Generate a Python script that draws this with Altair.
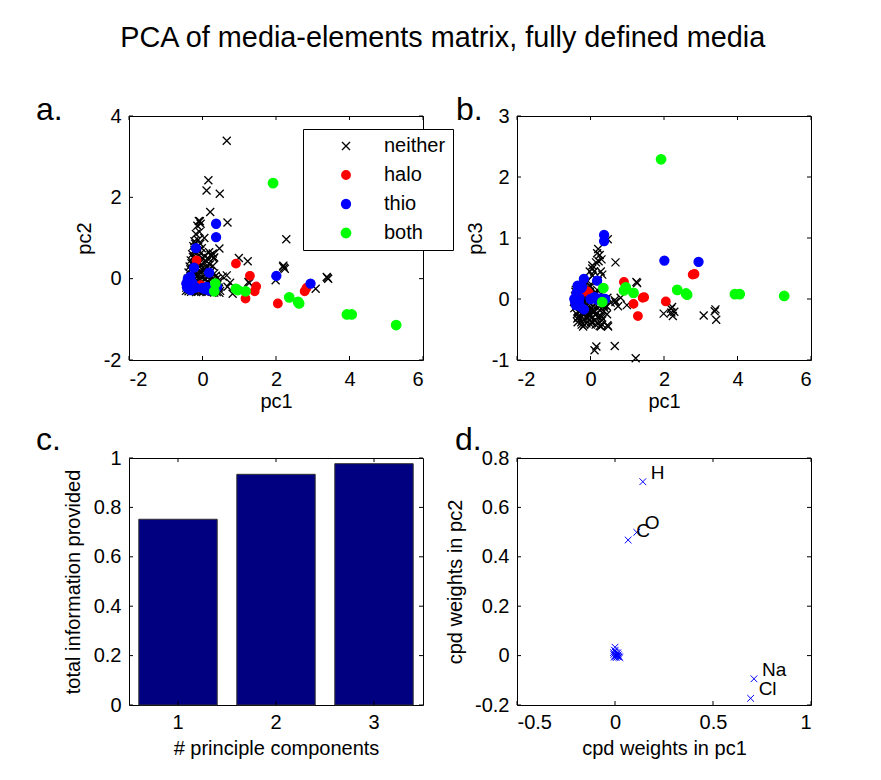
import altair as alt
import pandas as pd

FONT = "Liberation Sans"
X_PATH = "M-1,-1L1,1M-1,1L1,-1"

GROUPS = ["neither", "halo", "thio", "both"]
GROUP_COLORS = ["#000000", "#ff0000", "#0000ff", "#00ff00"]

# ---- scatter data: (pc1, pc2, pc3) per media group ----
NEITHER = [
    (0.66, 3.39, -0.77), (0.16, 2.42, -0.78), (0.11, 2.17, -0.84), (0.47, 2.09, 0.98),
    (0.21, 1.64, 0.82), (0.68, 1.38, 0.60), (-0.07, 1.41, -0.02), (2.28, 0.97, -0.21),
    (0.46, 0.74, -0.43), (0.99, 0.51, -0.10), (1.23, 0.43, -0.97), (1.25, -0.08, 0.28),
    (1.27, -0.11, 0.26), (2.19, 0.30, -0.16), (2.22, 0.27, -0.13), (2.24, 0.24, -0.28),
    (2.20, 0.32, -0.22), (1.99, -0.04, -0.24), (3.40, 0.02, -0.17), (3.42, 0.00, -0.34),
    (3.38, 0.04, -0.20), (3.08, -0.25, -0.27), (0.82, -0.37, 0.02), (0.68, -0.20, -0.05),
    (0.66, 0.08, -0.02), (0.55, 0.05, -0.06), (0.75, -0.10, -0.12), (0.28, 0.62, 0.45),
    (0.25, 0.55, 0.72), (0.30, 0.50, 0.65), (0.22, 0.58, 0.62), (0.32, 0.52, 0.40),
    # dense cluster near the origin
    (-0.45, -0.30, -0.05), (-0.38, -0.31, -0.12), (-0.31, -0.32, -0.20), (-0.24, -0.30, -0.30),
    (-0.17, -0.33, -0.42), (-0.10, -0.31, -0.10), (-0.03, -0.32, -0.25), (0.04, -0.30, -0.15),
    (0.11, -0.33, -0.35), (0.18, -0.31, -0.05), (0.25, -0.32, -0.44), (0.32, -0.34, -0.42),
    (0.39, -0.33, -0.10), (0.46, -0.35, 0.02),
    (-0.44, -0.22, -0.15), (-0.36, -0.24, -0.32), (-0.28, -0.21, 0.00), (-0.20, -0.25, -0.45),
    (-0.12, -0.23, -0.20), (-0.04, -0.22, -0.28), (0.04, -0.26, -0.38), (0.12, -0.24, -0.08),
    (0.20, -0.21, -0.30), (0.28, -0.23, -0.45), (0.36, -0.25, -0.20), (0.44, -0.22, -0.12),
    (-0.42, -0.12, 0.05), (-0.33, -0.14, -0.20), (-0.25, -0.10, -0.38), (-0.15, -0.13, 0.00),
    (-0.05, -0.11, -0.22), (0.05, -0.15, -0.30), (0.15, -0.10, 0.08), (0.25, -0.14, -0.18),
    (0.35, -0.12, -0.05), (0.45, -0.09, -0.25),
    (-0.40, 0.00, 0.15), (-0.32, 0.02, -0.05), (-0.24, -0.03, -0.42), (-0.16, 0.05, 0.10),
    (-0.08, 0.00, -0.30), (0.00, 0.03, 0.02), (0.08, -0.02, -0.12), (0.16, 0.06, -0.25),
    (0.24, 0.02, 0.05), (0.32, -0.04, -0.35), (0.40, 0.01, -0.02),
    (-0.38, 0.15, -0.10), (-0.28, 0.18, 0.20), (-0.18, 0.12, -0.20), (-0.08, 0.16, 0.05),
    (0.02, 0.20, -0.38), (0.12, 0.14, 0.10), (0.22, 0.17, 0.00), (0.32, 0.13, -0.08),
    (-0.35, 0.30, 0.00), (-0.25, 0.33, -0.15), (-0.15, 0.28, 0.10), (-0.05, 0.32, -0.25),
    (0.10, 0.30, 0.45), (0.20, 0.35, 0.30), (0.28, 0.31, -0.10),
    (-0.32, 0.45, -0.30), (-0.22, 0.48, 0.05), (-0.12, 0.44, -0.10), (0.00, 0.50, 0.20),
    (0.15, 0.50, 0.60),
    (-0.28, 0.60, 0.10), (-0.18, 0.65, -0.20), (-0.05, 0.62, 0.00), (0.18, 0.65, 0.75),
    (-0.25, 0.80, -0.10), (-0.15, 0.78, 0.25), (-0.02, 0.75, 0.45),
    (-0.22, 0.92, 0.05), (-0.12, 0.95, -0.30), (0.05, 1.00, 0.50),
    (-0.18, 1.10, -0.15), (-0.08, 1.15, 0.30),
    (-0.14, 1.30, 0.10), (-0.05, 1.35, -0.25), (-0.10, 1.42, 0.00),
    (-0.41, -0.27, 0.12), (-0.35, -0.18, -0.38), (-0.27, -0.27, -0.08), (-0.21, -0.16, 0.18),
    (-0.13, -0.28, -0.35), (-0.07, -0.18, 0.05), (0.01, -0.28, -0.42), (0.07, -0.17, -0.22),
    (0.15, -0.27, 0.10), (0.22, -0.17, -0.40), (0.30, -0.28, -0.30), (0.38, -0.17, -0.15),
    (0.48, -0.30, -0.45),
    (-0.37, -0.07, -0.25), (-0.29, 0.08, 0.05), (-0.20, -0.06, -0.15), (-0.11, 0.09, -0.40),
    (-0.02, -0.06, 0.12), (0.06, 0.09, -0.18), (0.14, -0.06, -0.42), (0.20, 0.09, 0.02),
    (0.28, -0.07, -0.28), (0.36, 0.07, -0.12),
    (-0.33, 0.23, -0.30), (-0.23, 0.22, 0.08), (-0.13, 0.24, -0.12), (-0.02, 0.24, 0.22),
    (0.08, 0.22, -0.20), (0.18, 0.24, 0.15),
    (-0.30, 0.38, 0.12), (-0.20, 0.40, -0.25), (-0.08, 0.38, 0.00), (0.05, 0.40, 0.38),
    (0.12, 0.42, -0.20),
    (-0.26, 0.53, -0.05), (-0.12, 0.55, 0.15), (0.05, 0.56, 0.55), (-0.22, 0.70, 0.02),
    (-0.10, 0.70, -0.15), (-0.20, 0.86, 0.20), (-0.06, 0.86, -0.05),
]
HALO = [
    (-0.16, 0.45, 0.12), (-0.05, -0.16, 0.10), (-0.10, -0.22, 0.13), (0.91, 0.37, 0.28),
    (1.29, 0.07, -0.28), (1.46, -0.19, 0.03), (1.42, -0.31, 0.02), (1.17, -0.49, -0.08),
    (2.05, -0.61, -0.04), (2.78, -0.31, 0.40), (2.83, -0.23, 0.41),
]
THIO = [
    (0.37, 1.35, 1.05), (0.37, 1.02, 0.95), (-0.18, 0.75, 0.33), (-0.23, 0.27, 0.20),
    (0.18, 0.15, 0.30), (2.01, 0.07, 0.63), (2.94, -0.12, 0.61),
    (-0.42, -0.22, -0.05), (-0.38, -0.15, 0.10), (-0.35, -0.05, 0.22), (-0.40, 0.00, -0.10),
    (-0.30, -0.20, 0.02), (-0.33, 0.05, 0.15), (-0.28, -0.10, -0.12), (-0.36, -0.25, 0.05),
    (-0.25, -0.18, 0.18), (-0.18, -0.22, -0.17), (-0.44, -0.12, 0.00), (-0.32, -0.28, -0.04),
    (0.00, -0.23, 0.00), (0.08, -0.26, 0.02), (0.18, -0.29, -0.01), (0.28, -0.25, 0.01),
    (0.40, -0.20, 0.00), (0.12, -0.20, 0.03),
]
BOTH = [
    (1.92, 2.35, 2.29), (0.91, -0.25, 0.14), (0.96, -0.28, 0.19), (1.17, -0.31, 0.10),
    (2.36, -0.46, 0.15), (2.60, -0.57, 0.09), (2.63, -0.61, 0.07), (3.93, -0.88, 0.08),
    (4.06, -0.88, 0.08), (5.27, -1.14, 0.05), (0.35, -0.12, 0.18), (0.32, -0.31, -0.05),
]

# ---- bar data ----
PC_COUNT = [1, 2, 3]
INFO = [0.752, 0.934, 0.977]

# ---- compound weights ----
W_PC1 = [0.142, 0.067, 0.111, 0.709, 0.692,
         0.000, -0.003, 0.004, -0.006, 0.000, 0.008, 0.012, 0.016, 0.020, 0.025,
         -0.004, 0.006, 0.010, 0.003, -0.008, 0.018, 0.014, 0.001]
W_PC2 = [0.704, 0.468, 0.499, -0.094, -0.173,
         0.034, 0.022, 0.012, 0.005, 0.000, 0.002, -0.004, 0.003, -0.006, -0.008,
         -0.006, -0.008, 0.008, -0.002, 0.012, -0.002, 0.011, 0.018]
W_NAME = ["H", "C", "O", "Na", "Cl"] + [""] * 18

TICK = 4
AX = dict(domain=False, ticks=False, grid=False, labelFont=FONT, labelFontSize=20,
          labelColor="black", titleFont=FONT, titleFontSize=20, titleFontWeight="normal",
          titleColor="black",
          format="~g", labelExpr="replace(datum.label, '\u2212', '-')")


def inward_ticks(xenc, yenc, xname, xvals, yname, yvals, W, H):
    xt = pd.DataFrame({xname: xvals})
    yt = pd.DataFrame({yname: yvals})
    r = dict(color="black", strokeWidth=1)
    return [
        alt.Chart(xt).mark_rule(**r).encode(x=xenc, y=alt.value(H), y2=alt.value(H - TICK)),
        alt.Chart(xt).mark_rule(**r).encode(x=xenc, y=alt.value(0), y2=alt.value(TICK)),
        alt.Chart(yt).mark_rule(**r).encode(y=yenc, x=alt.value(0), x2=alt.value(TICK)),
        alt.Chart(yt).mark_rule(**r).encode(y=yenc, x=alt.value(W), x2=alt.value(W - TICK)),
    ]


def panel_title(letter, dx, dy):
    return alt.Title(letter, anchor="start", frame="group", dx=dx, dy=dy, offset=0,
                     fontSize=32, fontWeight="normal", font=FONT, color="black",
                     baseline="alphabetic")


rows = []
for name, pts in zip(GROUPS, [NEITHER, HALO, THIO, BOTH]):
    for p1, p2, p3 in pts:
        rows.append({"group": name, "pc1": p1, "pc2": p2, "pc3": p3})
scat = pd.DataFrame(rows)


def scatter_panel(ycol, ydom, yvals, letter, letter_dx, legend_x, ytp):
    W, H = 294, 244
    xenc = alt.X("pc1:Q", scale=alt.Scale(domain=[-2, 6], nice=False, zero=False),
                 axis=alt.Axis(values=[-2, 0, 2, 4, 6], title="pc1", labelPadding=9,
                               titlePadding=2, **AX))
    yenc = alt.Y(f"{ycol}:Q", scale=alt.Scale(domain=ydom, nice=False, zero=False),
                 axis=alt.Axis(values=yvals, title=ycol, labelPadding=8, titlePadding=ytp,
                               **AX))
    leg = alt.Legend(title=None, orient="none", legendX=legend_x, legendY=13,
                     strokeColor="black", fillColor="white", padding=7,
                     symbolOffset=26, labelOffset=28, labelFontSize=20, labelFont=FONT,
                     labelColor="black", rowPadding=9, symbolStrokeWidth=1.3,
                     labelLimit=0, cornerRadius=0)
    pts = alt.Chart(scat).mark_point(opacity=1, strokeWidth=1.3).encode(
        x=xenc, y=yenc,
        shape=alt.Shape("group:N", scale=alt.Scale(domain=GROUPS,
                        range=[X_PATH, "circle", "circle", "circle"]), legend=leg),
        fill=alt.Fill("group:N", scale=alt.Scale(domain=GROUPS,
                      range=["transparent"] + GROUP_COLORS[1:]), legend=leg),
        stroke=alt.Stroke("group:N", scale=alt.Scale(domain=GROUPS, range=GROUP_COLORS),
                          legend=leg),
        size=alt.Size("group:N", scale=alt.Scale(domain=GROUPS, range=[64, 90, 90, 90]),
                      legend=leg),
    )
    layers = [pts] + inward_ticks(xenc, yenc, "pc1", [-2, 0, 2, 4, 6], ycol, yvals, W, H)
    return alt.layer(*layers).properties(width=W, height=H,
                                         title=panel_title(letter, letter_dx, 46))


a = scatter_panel("pc2", [-2, 4], [-2, 0, 2, 4], "a.", -93, 174, 9)
b = scatter_panel("pc3", [-1, 3], [-1, 0, 1, 2, 3], "b.", -61, 177, 6)

# ---- panel c ----
W, H = 294, 247
bar_df = pd.DataFrame({"n": PC_COUNT, "info": INFO})
cx_scale = alt.Scale(paddingInner=0.2, paddingOuter=0.1)
cx_axis = alt.Axis(labelAngle=0, title="# principle components", labelPadding=7,
                   titlePadding=6, **AX)
cx = alt.X("n:O", scale=cx_scale, axis=cx_axis)
cx_tick = alt.X("n:O", scale=cx_scale, axis=cx_axis, bandPosition=0.5)
cy = alt.Y("info:Q", scale=alt.Scale(domain=[0, 1], nice=False),
           axis=alt.Axis(values=[0, 0.2, 0.4, 0.6, 0.8, 1], labelPadding=8,
                         title="total information provided", titlePadding=10, **AX))
bars = alt.Chart(bar_df).mark_bar(color="#000080", stroke="#333333", strokeWidth=1).encode(
    x=cx, y=cy)
c = alt.layer(bars, *inward_ticks(cx_tick, cy, "n", PC_COUNT, "info",
                                  [0, 0.2, 0.4, 0.6, 0.8, 1], W, H)).properties(
    width=W, height=H, title=panel_title("c.", -93, 34))

# ---- panel d ----
d_df = pd.DataFrame({"w1": W_PC1, "w2": W_PC2, "name": W_NAME})
dx_enc = alt.X("w1:Q", scale=alt.Scale(domain=[-0.5, 1], nice=False, zero=False),
               axis=alt.Axis(values=[-0.5, 0, 0.5, 1], title="cpd weights in pc1",
                             labelPadding=7, titlePadding=6, **AX))
dy_enc = alt.Y("w2:Q", scale=alt.Scale(domain=[-0.2, 0.8], nice=False, zero=False),
               axis=alt.Axis(values=[-0.2, 0, 0.2, 0.4, 0.6, 0.8], labelPadding=8,
                             title="cpd weights in pc2", titlePadding=9, **AX))
dpts = alt.Chart(d_df).mark_point(shape=X_PATH, color="#0000ff", size=45, strokeWidth=1,
                                  opacity=1).encode(x=dx_enc, y=dy_enc)
dlab = alt.Chart(d_df).transform_filter("datum.name != ''").mark_text(
    align="left", baseline="middle", dx=8, dy=-9, fontSize=19, font=FONT,
    color="black").encode(x=dx_enc, y=dy_enc, text="name:N")
d = alt.layer(dpts, dlab, *inward_ticks(dx_enc, dy_enc, "w1", [-0.5, 0, 0.5, 1], "w2",
                                        [-0.2, 0, 0.2, 0.4, 0.6, 0.8], W, H)).properties(
    width=W, height=H, title=panel_title("d.", -62, 34))

chart = alt.concat(a, b, c, d, columns=2,
                   spacing=alt.RowColnumber(row=98, column=94), bounds="flush").properties(
    title=alt.Title("PCA of media-elements matrix, fully defined media", fontSize=28.8,
                    fontWeight="normal", font=FONT, color="black", anchor="middle",
                    offset=40.5, dx=19),
    padding={"left": 27, "top": 16, "right": 5, "bottom": 5},
    background="white",
).configure_view(stroke="black", strokeWidth=1)

chart.save("out.html", embed_options={"renderer": "svg", "actions": False})
